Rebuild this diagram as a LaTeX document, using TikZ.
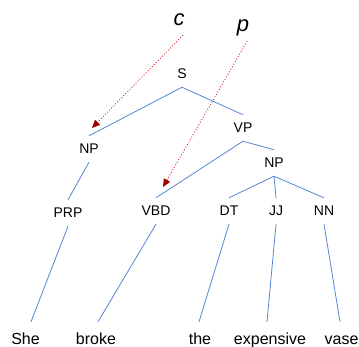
\documentclass[tikz,border=0pt]{standalone}
\usepackage{fontspec}
\setmainfont{Liberation Sans}
\usetikzlibrary{arrows.meta}
\definecolor{treeblue}{RGB}{86,134,214}
\definecolor{ptrred}{RGB}{204,40,40}
\definecolor{tipred}{RGB}{160,0,0}
\begin{document}
\begin{tikzpicture}[x=1pt,y=-1pt,
        tag/.style={inner sep=0pt,minimum height=26pt,font=\fontsize{14}{16}\selectfont},
        word/.style={inner xsep=0pt,inner ysep=10.5pt,text height=11.5pt,text depth=3.5pt,anchor=base,font=\fontsize{16}{18}\selectfont},
        var/.style={inner xsep=0pt,inner ysep=10pt,text depth=0pt,anchor=base,font=\fontsize{22}{24}\selectfont\itshape},
        branch/.style={treeblue,line width=0.8pt},
        pointer/.style={ptrred,dotted,line width=0.9pt,-{Triangle[length=8pt,width=7pt,fill=tipred,color=tipred]}}]
        \useasboundingbox (0,0) rectangle (359,346);
        % tree
        \node[tag] (s) at (182,74) {S};
        \node[tag] (np1) at (89,149) {NP};
        \node[tag] (vp) at (243,128) {VP};
        \node[tag] (np2) at (274,163) {NP};
        \node[tag] (prp) at (68,213) {PRP};
        \node[tag] (vbd) at (156,211) {VBD};
        \node[tag] (dt) at (229,211) {DT};
        \node[tag] (jj) at (276,211) {JJ};
        \node[tag] (nn) at (324,211) {NN};
        \foreach \a/\b in {s/np1, s/vp, vp/vbd, vp/np2, np1/prp, np2/dt, np2/jj, np2/nn}
            \draw[branch] (\a.south) -- (\b.north);
        % words
        \node[word] (she) at (25.5,344) {She};
        \node[word] (broke) at (96,344) {broke};
        \node[word] (the) at (200,344) {the};
        \node[word] (expensive) at (270,344) {expensive};
        \node[word] (vase) at (341.5,344) {vase};
        \foreach \a/\b/\d in {prp/she/5.5, vbd/broke/2, dt/the/-1, jj/expensive/-3, nn/vase/-1.5}
            \draw[branch] (\a.south) -- ([xshift=\d pt]\b.north);
        % pointers
        \node[var] (c) at (179,25) {c};
        \node[var] (p) at (243,31) {p};
        \coordinate (np1tip) at (92,128);
        \coordinate (vbdtip) at (163,187);
        \draw[pointer] ([xshift=4pt]c.south) -- (np1tip);
        \draw[pointer] ([xshift=4pt]p.south) -- (vbdtip);
\end{tikzpicture}
\end{document}
